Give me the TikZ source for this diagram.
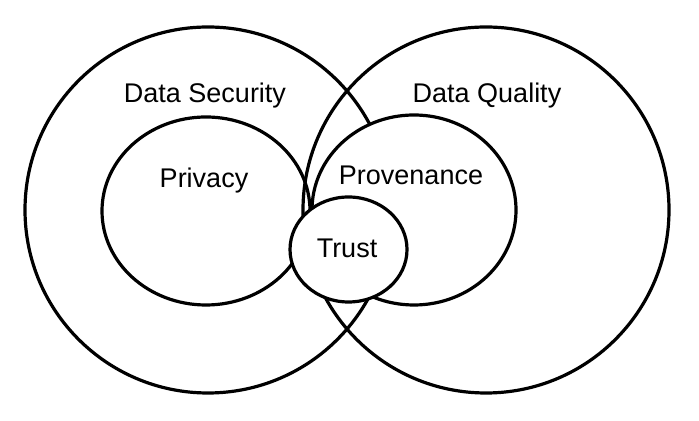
\documentclass[tikz,border=0pt]{standalone}
\usepackage{fontspec}
\setmainfont{Liberation Sans}
\usetikzlibrary{positioning}
\tikzset{
  setline/.style={draw=black, line width=1.6pt},
  setfill/.style={setline, fill=white},
  lab/.style={font=\fontsize{13.5}{16}\selectfont, anchor=base, inner sep=0pt},
}

\begin{document}
\begin{tikzpicture}[x=0.5pt,y=0.5pt]
  \path[use as bounding box] (0,0) rectangle (699,421);

  % the two outer sets
  \draw[setline] (208,211) circle[radius=183];
  \draw[setline] (486,211) circle[radius=183];

  % inner sets, Trust on top
  \draw[setline] (206,210) ellipse[x radius=104, y radius=94];
  \draw[setfill] (414,211) ellipse[x radius=102, y radius=95];
  \draw[setfill] (348.5,171.5) ellipse[x radius=58.5, y radius=52.5];

  \node[lab] (security) at (205,318) {Data Security};
  \node[lab] (quality) at (487,318) {Data Quality};
  \node[lab] (privacy) at (204,233) {Privacy};
  \node[lab] (provenance) at (411,236) {Provenance};
  \node[lab] (trust) at (347,163) {Trust};
\end{tikzpicture}
\end{document}
